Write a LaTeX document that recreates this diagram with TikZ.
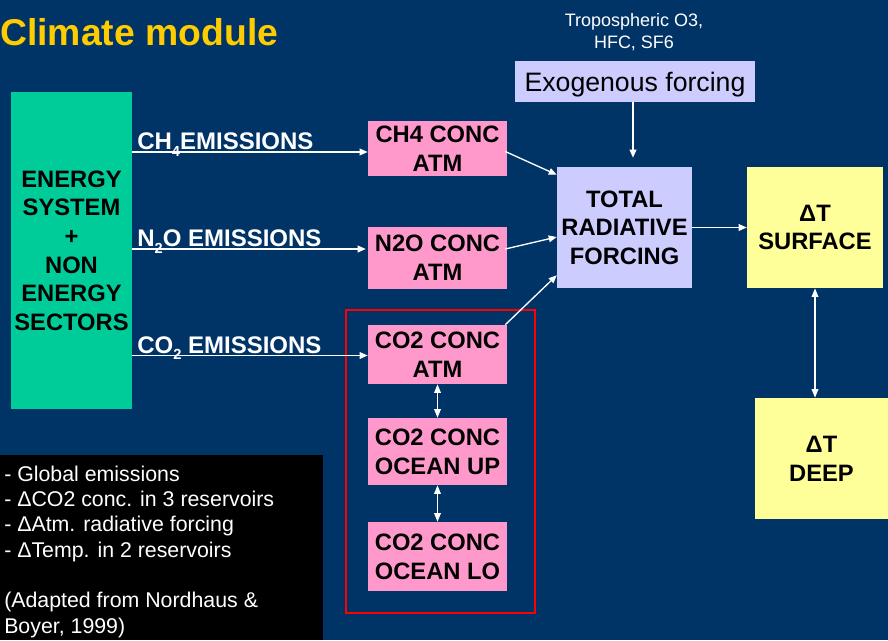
\documentclass[tikz,border=0pt]{standalone}
\usepackage{fontspec}
\setmainfont{Liberation Sans}
\usetikzlibrary{arrows.meta,calc}

\definecolor{slidebg}{HTML}{003366}
\definecolor{titlegold}{HTML}{FFCC00}
\definecolor{sectorgreen}{HTML}{00CC99}
\definecolor{concpink}{HTML}{FF99CC}
\definecolor{forcelilac}{HTML}{CCCCFF}
\definecolor{tempyellow}{HTML}{FFFF99}

% lowered chemical index, as in CH4
\newcommand\lowidx[1]{\raisebox{-5pt}{\fontsize{11}{11}\selectfont #1}}

\begin{document}
\begin{tikzpicture}[x=0.75pt,y=-0.75pt,
  box/.style 2 args={rectangle, inner sep=0pt,
    minimum width=#1*0.75pt, minimum height=#2*0.75pt,
    align=center, text=black,
    font=\bfseries\fontsize{17.8}{21.5}\selectfont},
  flow/.style={draw=white, line width=1pt, -{Triangle[length=6pt,width=5pt]}},
  both/.style={draw=white, line width=1pt,
    {Triangle[length=6.5pt,width=5pt]}-{Triangle[length=6.5pt,width=5pt]}},
  emis/.style={anchor=base west, inner sep=0pt, text=white,
    font=\bfseries\fontsize{18}{21}\selectfont},
  uline/.style={draw=white, line width=1.1pt}
]
% slide background
\fill[slidebg] (0,0) rectangle (888,640);
\useasboundingbox (0,0) rectangle (888,640);

% title
\node[anchor=base west, inner sep=0pt, text=titlegold,
      font=\bfseries\fontsize{28}{28}\selectfont] (title) at (0,45) {Climate module};

% summary panel
\fill[black] (0,455) rectangle (323,640);
\node[anchor=north west, inner sep=0pt, text=white, align=left,
      font=\fontsize{16}{19}\selectfont] (notes) at (4,465.5)
  {- Global emissions\\
   - ΔCO2 conc. in 3 reservoirs\\
   - ΔAtm. radiative forcing\\
   - ΔTemp. in 2 reservoirs\\[19pt]
   (Adapted from Nordhaus \&\\
   Boyer, 1999)};

% emission sources
\node[box={121}{317}, fill=sectorgreen] (energy) at (71.5,250.5)
  {ENERGY\\SYSTEM\\+\\NON\\ENERGY\\SECTORS};

% concentration boxes
\node[box={139}{55}, fill=concpink] (ch4) at (437.5,148.5) {CH4 CONC\\ATM};
\node[box={139}{62}, fill=concpink] (n2o) at (437.5,258) {N2O CONC\\ATM};
\node[box={139}{59}, fill=concpink] (co2atm) at (437.5,354.5) {CO2 CONC\\ATM};
\node[box={139}{67}, fill=concpink] (coup) at (437.5,451.5) {CO2 CONC\\OCEAN UP};
\node[box={139}{69}, fill=concpink] (colo) at (437.5,556.5) {CO2 CONC\\OCEAN LO};

% carbon cycle frame
\draw[red, line width=1.5pt] (346,310) rectangle (535,613);

% forcing
\node[text=white, align=center, inner sep=0pt,
      font=\fontsize{13.5}{16}\selectfont] (trop) at (634,32)
  {Tropospheric O3,\\HFC, SF6};
\node[rectangle, fill=forcelilac, inner sep=0pt, text depth=0pt,
      minimum width=240*0.75pt, minimum height=41*0.75pt,
      font=\fontsize{20}{24}\selectfont] (exo) at (635,81.5) {Exogenous forcing};
\node[box={135}{121}, fill=forcelilac] (total) at (624.5,227.5)
  {TOTAL\\RADIATIVE\\FORCING};

% temperature
\node[box={136}{121}, fill=tempyellow] (surf) at (815,227.5) {ΔT\\SURFACE};
\node[box={133}{121}, fill=tempyellow] (deep) at (821.5,458.5) {ΔT\\DEEP};

% emission labels, underlined
\node[emis] (ch4lab) at (137,149.5) {CH\lowidx{4}EMISSIONS};
\node[emis] (n2olab) at (137,246.5) {N\lowidx{2}O EMISSIONS};
\node[emis] (co2lab) at (137,353) {CO\lowidx{2} EMISSIONS};
\foreach \l in {ch4lab,n2olab,co2lab}
  \draw[uline] ($(\l.base west)+(0,2.5)$) -- ($(\l.base east)+(0,2.5)$);

% emission flows
\draw[flow] ($(energy.east |- ch4lab.base)+(0,2.5)$) -- ($(ch4.west |- ch4lab.base)+(0,2.5)$);
\draw[flow] ($(energy.east |- n2olab.base)+(0,2.5)$) -- ($(n2o.west |- n2olab.base)+(-2,2.5)$);
\draw[flow] ($(energy.east |- co2lab.base)+(0,2.5)$) -- ($(co2atm.west |- co2lab.base)+(0,2.5)$);

% into total forcing
\draw[flow] ($(ch4.east)+(-2,3)$) -- ($(total.north west)+(0,8)$);
\draw[flow] ($(n2o.east)+(-2,-9)$) -- ($(total.west)+(0,9.5)$);
\draw[flow] ($(co2atm.north east)+(-2,0)$) -- ($(total.south west)+(0,-13)$);
\draw[flow] ($(exo.south)+(-2,0)$) -- ($(exo.south |- total.north)+(-2,-9)$);

% forcing to temperature
\draw[flow] (total.east) -- (surf.west);
\draw[both] (surf.south) -- (surf.south |- deep.north);

% carbon exchange between reservoirs
\draw[both] (co2atm.south) -- (coup.north);
\draw[both] (coup.south) -- (colo.north);
\end{tikzpicture}
\end{document}
